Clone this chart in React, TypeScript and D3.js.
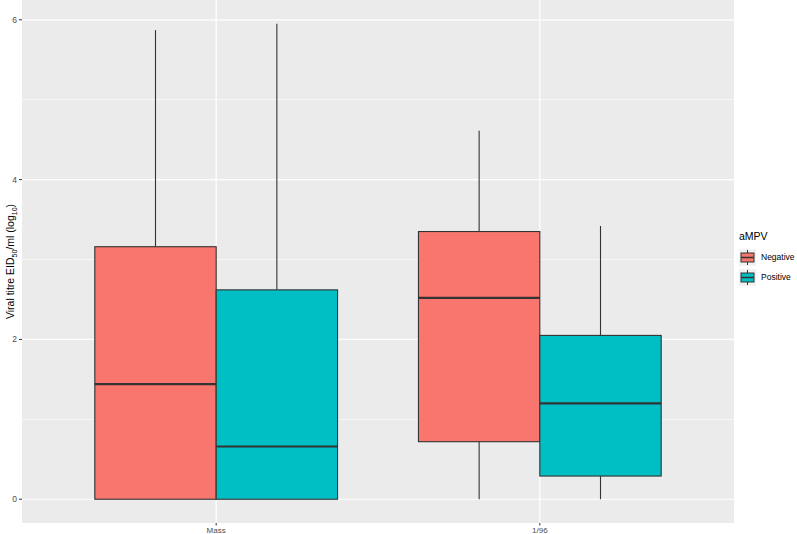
import React from 'react';
import * as d3 from "d3";

const categories = ["Mass", "1/96"];
const groups = ["Negative", "Positive"];
const groupColors = ["#F8766D", "#00BFC4"];

// [lower whisker, Q1, median, Q3, upper whisker] per category, per group
const negativeStats = [
    [0, 0, 1.44, 3.16, 5.87],
    [0, 0.72, 2.52, 3.35, 4.61],
];
const positiveStats = [
    [0, 0, 0.66, 2.62, 5.95],
    [0, 0.29, 1.20, 2.05, 3.42],
];
const yTicks = [0, 2, 4, 6];
const yMinor = [1, 3, 5];

const App = () => {
    const width = 797,
        height = 534;
    const panel = { left: 22, right: 734, top: 0, bottom: 523 };

    const statsByGroup = [negativeStats, positiveStats];

    const xScale = d3.scaleLinear()
        .domain([0.4, 2.6])
        .range([panel.left, panel.right]);

    const yMax = d3.max(statsByGroup.flat(), d => d[4]) ?? 6;
    const pad = yMax * 0.05;
    const yScale = d3.scaleLinear()
        .domain([-pad, yMax + pad])
        .range([panel.bottom, panel.top]);

    const boxW = 0.375;

    const font = "'Liberation Sans', Arial, sans-serif";

    return (
        <svg width={width} height={height} style={{ position: 'absolute', left: 0, top: 0 }} fontFamily={font}>
            <rect x={0} y={0} width={width} height={height} fill="white" />
            <rect x={panel.left} y={panel.top} width={panel.right - panel.left} height={panel.bottom - panel.top} fill="#EBEBEB" />
            {yMinor.map(v => (
                <line key={'m' + v} x1={panel.left} x2={panel.right} y1={yScale(v)} y2={yScale(v)} stroke="white" strokeWidth={0.6} />
            ))}
            {yTicks.map(v => (
                <line key={'g' + v} x1={panel.left} x2={panel.right} y1={yScale(v)} y2={yScale(v)} stroke="white" strokeWidth={1.2} />
            ))}
            {categories.map((c, i) => (
                <line key={'x' + c} x1={xScale(i + 1)} x2={xScale(i + 1)} y1={panel.top} y2={panel.bottom} stroke="white" strokeWidth={1.2} />
            ))}

            {categories.map((c, i) => statsByGroup.map((stats, g) => {
                const s = stats[i];
                const x0 = xScale(i + 1 - boxW + g * boxW);
                const x1 = xScale(i + 1 + g * boxW);
                const cx = (x0 + x1) / 2;
                return (
                    <g key={c + g}>
                        <line x1={cx} x2={cx} y1={yScale(s[3])} y2={yScale(s[4])} stroke="#333333" strokeWidth={1.1} />
                        <line x1={cx} x2={cx} y1={yScale(s[1])} y2={yScale(s[0])} stroke="#333333" strokeWidth={1.1} />
                        <rect x={x0} y={yScale(s[3])} width={x1 - x0} height={yScale(s[1]) - yScale(s[3])}
                            fill={groupColors[g]} stroke="#333333" strokeWidth={1.1} />
                        <line x1={x0} x2={x1} y1={yScale(s[2])} y2={yScale(s[2])} stroke="#333333" strokeWidth={2.2} />
                    </g>
                );
            }))}

            {yTicks.map(v => (
                <g key={'t' + v}>
                    <line x1={panel.left - 3} x2={panel.left} y1={yScale(v)} y2={yScale(v)} stroke="#333333" strokeWidth={1} />
                    <text x={panel.left - 5} y={yScale(v)} dy="0.35em" textAnchor="end" fontSize={8.5} fill="#4D4D4D">{v}</text>
                </g>
            ))}
            {categories.map((c, i) => (
                <g key={'xt' + c}>
                    <line x1={xScale(i + 1)} x2={xScale(i + 1)} y1={panel.bottom} y2={panel.bottom + 2.5} stroke="#333333" strokeWidth={1} />
                    <text x={xScale(i + 1)} y={panel.bottom + 10} textAnchor="middle" fontSize={8} fill="#4D4D4D">{c}</text>
                </g>
            ))}

            <text transform={`translate(10,${(panel.top + panel.bottom) / 2}) rotate(-90)`} textAnchor="middle" dy="0.35em" fontSize={10.5} fill="black">
                Viral titre EID<tspan fontSize={7} dy="3">50</tspan><tspan dy="-3">/ml (log</tspan><tspan fontSize={7} dy="3">10</tspan><tspan dy="-3">)</tspan>
            </text>

            <g transform="translate(739,0)">
                <text x={0} y={240} fontSize={10.5} fill="black">aMPV</text>
                {groups.map((gname, g) => {
                    const ky = 249 + g * 20;
                    return (
                        <g key={gname}>
                            <rect x={0} y={ky} width={17} height={17} fill="#F2F2F2" />
                            <line x1={8.5} x2={8.5} y1={ky + 1} y2={ky + 16} stroke="#333333" strokeWidth={1} />
                            <rect x={2} y={ky + 4} width={13} height={9} fill={groupColors[g]} stroke="#333333" strokeWidth={1} />
                            <line x1={2} x2={15} y1={ky + 8.5} y2={ky + 8.5} stroke="#333333" strokeWidth={1.5} />
                            <text x={22} y={ky + 8.5} dy="0.35em" fontSize={8.5} fill="black">{gname}</text>
                        </g>
                    );
                })}
            </g>
        </svg>
    );
};

export default App;
